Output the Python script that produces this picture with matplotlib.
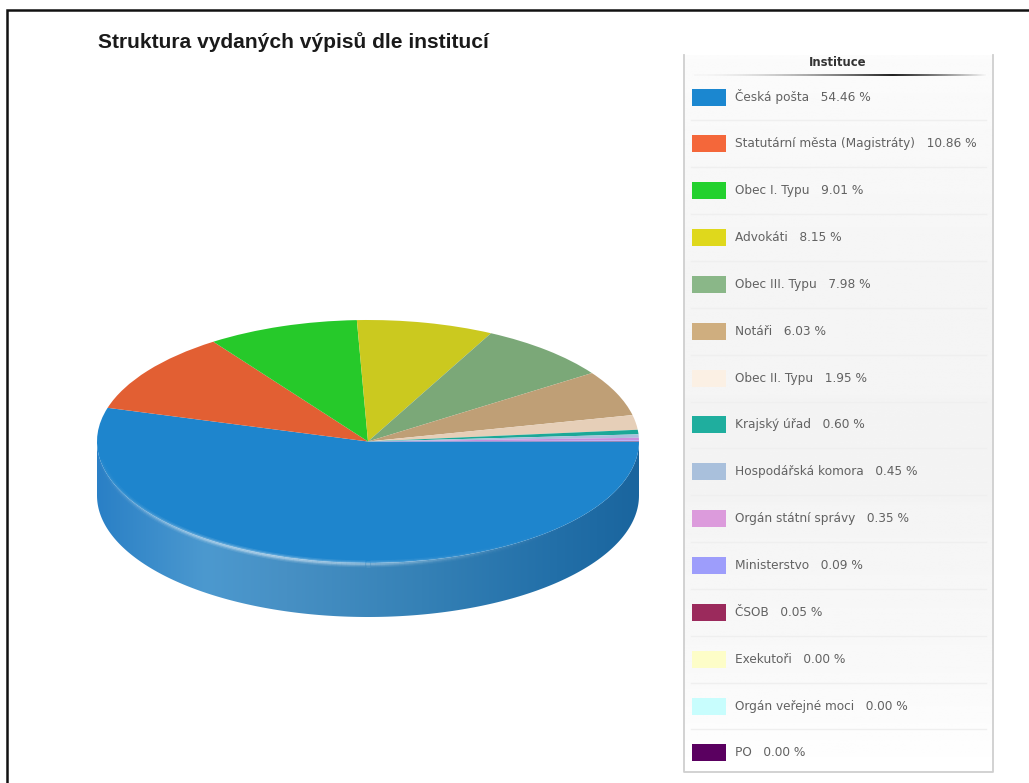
#!/usr/bin/env python
# coding: utf-8
import numpy as np
import matplotlib.pyplot as plt
from matplotlib.collections import LineCollection
from matplotlib.colors import LinearSegmentedColormap, to_rgb
from matplotlib.patches import PathPatch, Rectangle
from matplotlib.path import Path

title = "Struktura vydaných výpisů dle institucí"
legend_title = "Instituce"
labels = [
    "Česká pošta", "Statutární města (Magistráty)", "Obec I. Typu", "Advokáti",
    "Obec III. Typu", "Notáři", "Obec II. Typu", "Krajský úřad",
    "Hospodářská komora", "Orgán státní správy", "Ministerstvo", "ČSOB",
    "Exekutoři", "Orgán veřejné moci", "PO",
]
values = [54.46, 10.86, 9.01, 8.15, 7.98, 6.03, 1.95, 0.60, 0.45, 0.35, 0.09, 0.05, 0.00, 0.00, 0.00]
legend_colors = [
    "#1b87d0", "#f4673a", "#23d12e", "#dfd81c", "#8ab788", "#cfae7f", "#fbf0e4", "#1fae9e",
    "#a9c0dc", "#dc9bdc", "#9d9dfb", "#9b2a5c", "#fdfdc8", "#c8fdfd", "#5a0060",
]
top_colors = [
    "#1e85cd", "#e25f33", "#26c92a", "#cbc91f", "#7ba878", "#bf9f76", "#e6cfb8", "#1ba897",
    "#a9c0dc", "#c98fdc", "#9d9dfb", "#9b2a5c", "#fdfdc8", "#c8fdfd", "#5a0060",
]

W, H = 1029, 783
fig = plt.figure(figsize=(W / 100, H / 100), dpi=100)
bg = fig.add_axes([0, 0, 1, 1])
bg.set_xlim(0, W)
bg.set_ylim(H, 0)
bg.axis("off")

# outer frame of the screenshot
bg.plot([7, 7, W], [H, 10, 10], color="#111111", lw=1.8, solid_joinstyle="miter")
bg.text(98, 42, title, family="Liberation Sans", weight="bold", fontsize=15.1,
        color="#1a1a1a", va="center", ha="left")

# pie: ellipse 97..639 x 320..563, side 54 px deep
left, right, top, bottom, depth = 97, 639, 320, 563, 54
ry = (bottom - top) / 2
d = depth / ry
ax = fig.add_axes([left / W, 1 - (bottom + depth) / H, (right - left) / W, (bottom + depth - top) / H])
ax.patch.set_alpha(0)

# side of the disc, only the first slice is on the visible half
t = np.radians(np.linspace(0, min(180, values[0] * 3.6), 200))
xs = np.cos(t)
ys = -np.sin(t)
verts = np.vstack([np.column_stack([xs, ys]), np.column_stack([xs[::-1], ys[::-1] - d])])
side_path = Path(np.vstack([verts, verts[:1]]),
                 [Path.MOVETO] + [Path.LINETO] * (len(verts) - 1) + [Path.CLOSEPOLY])
side_cmap = LinearSegmentedColormap.from_list("side", [
    (0, "#2a80c6"), (0.2, "#4c99cf"), (0.35, "#4790c4"), (0.6, "#3581b6"),
    (0.85, "#226fa8"), (1, "#1a659e"),
])
img = ax.imshow(np.linspace(0, 1, 256)[None, :], extent=(-1, 1, -1 - d, 1), cmap=side_cmap,
                aspect="auto", zorder=1)
img.set_clip_path(PathPatch(side_path, transform=ax.transData))

ax.pie(values, colors=top_colors, startangle=0, counterclock=False, radius=1,
       wedgeprops={"linewidth": 0, "zorder": 2})
ax.set_aspect("auto")
ax.set_xlim(-1, 1)
ax.set_ylim(-1 - d, 1)
ax.axis("off")

# soft highlight along the front rim
rim = np.radians(np.linspace(8, 172, 160))
rx_, ry_ = 0.995 * np.cos(rim), -0.995 * np.sin(rim) - 0.012
pts = np.column_stack([rx_, ry_])[:, None, :]
segs = np.concatenate([pts[:-1], pts[1:]], axis=1)
fade = np.exp(-((np.degrees(rim[:-1]) - 112) / 36) ** 2)
for lw, a in [(5.0, 0.14), (3.2, 0.24), (1.6, 0.42)]:
    seg_colors = [(*to_rgb("#d6e8f5"), a * f) for f in fade]
    ax.add_collection(LineCollection(segs, colors=seg_colors, linewidths=lw, zorder=3))

# legend panel
box_l, box_r, box_t, box_b = 684, 993, 55, 772
shade = np.interp(np.linspace(0, 1, 256), [0, 0.3, 0.6, 0.85, 1], [0.985, 0.96, 0.955, 0.975, 1.0])
bg.imshow(shade[:, None], extent=(box_l, box_r, box_b, box_t), cmap="gray", vmin=0, vmax=1,
          aspect="auto", zorder=1)
bg.set_xlim(0, W)
bg.set_ylim(H, 0)
bg.plot([box_l, box_l, box_r, box_r], [box_t, box_b, box_b, box_t], color="#cfcfcf", lw=1.3, zorder=2)

bg.text(838, 62, legend_title, family="DejaVu Sans", weight="bold", fontsize=8.4, color="#333333",
        ha="center", va="center", zorder=3)
rule = LinearSegmentedColormap.from_list("rule", ["#f6f6f6", "#222222", "#f6f6f6"])
bg.imshow(np.linspace(0, 1, 256)[None, :] ** 1.8, extent=(694, 986, 76.5, 75), cmap=rule, aspect="auto", zorder=3)
bg.set_xlim(0, W)
bg.set_ylim(H, 0)

row0, row_h = 97, 46.85
for i, (name, val, col) in enumerate(zip(labels, values, legend_colors)):
    y = row0 + i * row_h
    bg.add_patch(Rectangle((692, y - 8.5), 34, 17, facecolor=col, edgecolor="none", zorder=3))
    bg.text(735, y, f"{name}   {val:.2f} %", family="DejaVu Sans", fontsize=8.7, color="#626262",
            va="center", ha="left", zorder=3)
    if i < len(labels) - 1:
        bg.plot([691, 986], [y + row_h / 2] * 2, color="#efefef", lw=1, zorder=2)

fig.savefig("out.png", dpi=100)
